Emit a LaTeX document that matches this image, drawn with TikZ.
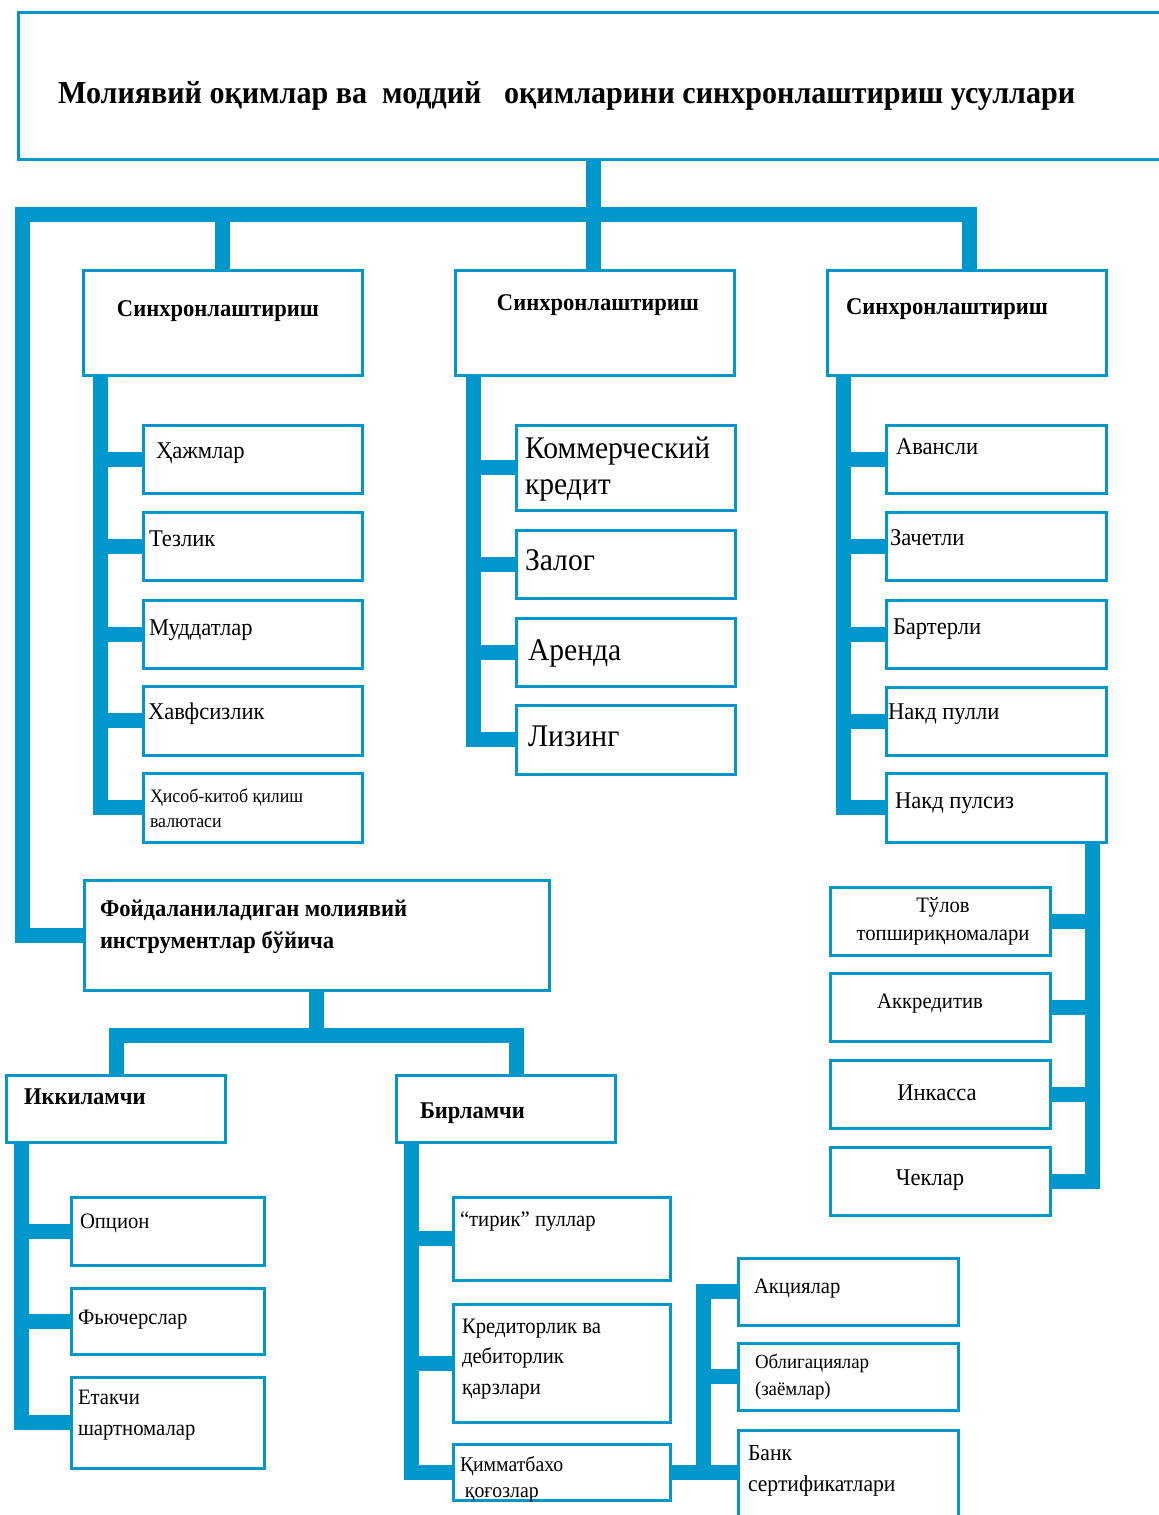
\documentclass[tikz,border=0pt]{standalone}
\usepackage{fontspec}
\setmainfont{Liberation Serif}[FakeStretch=0.94]
\usetikzlibrary{calc}
\definecolor{cb}{RGB}{0,152,204}
\newcommand\lft[1]{\vtop{\halign{##\hfil\cr#1\crcr}}}
\newcommand\ctr[1]{\vtop{\halign{\hfil##\hfil\cr#1\crcr}}}
\begin{document}
\begin{tikzpicture}[x=1pt,y=-1pt,
  box/.style={draw=cb, line width=3pt, rectangle, anchor=north west, inner sep=0pt, outer sep=0pt, fill=white},
  bar/.style={draw=cb, line width=15pt, line join=miter},
  txt/.style={anchor=base west, inner sep=0pt, outer sep=0pt},
  f24/.style={font=\fontsize{24}{30}\selectfont},
  f22/.style={font=\fontsize{22}{28}\selectfont},
  b24/.style={font=\bfseries\fontsize{24}{32}\selectfont},
  big/.style={font=\fontsize{31.5}{36}\selectfont},
]
\useasboundingbox[fill=white] (0,0) rectangle (1159,1515);

% coordinates for connector lines
\coordinate (hub) at (593,214);
\coordinate (lc) at (22,214);
\coordinate (v1) at (100,0);
\coordinate (v2) at (473,0);
\coordinate (v3) at (843,0);
\coordinate (vp) at (1092,0);
\coordinate (fh) at (316,1035);
\coordinate (ib) at (116,1035);
\coordinate (bb) at (516,1035);
\coordinate (vi) at (21,0);
\coordinate (vb) at (411,0);
\coordinate (vs) at (703,0);
\coordinate (d3) at (969,0);

% boxes
\node[box, minimum width=1152pt, minimum height=147pt] (title) at (18,12) {};
\node[box, minimum width=279pt, minimum height=105pt] (s1) at (83,270) {};
\node[box, minimum width=279pt, minimum height=105pt] (s2) at (455,270) {};
\node[box, minimum width=279pt, minimum height=105pt] (s3) at (827,270) {};

\node[box, minimum width=219pt, minimum height=68pt] (c1) at (143,425) {};
\node[box, minimum width=219pt, minimum height=68pt] (c2) at (143,512) {};
\node[box, minimum width=219pt, minimum height=68pt] (c3) at (143,600) {};
\node[box, minimum width=219pt, minimum height=69pt] (c4) at (143,686) {};
\node[box, minimum width=219pt, minimum height=69pt] (c5) at (143,773) {};

\node[box, minimum width=219pt, minimum height=85pt] (m1) at (516,425) {};
\node[box, minimum width=219pt, minimum height=68pt] (m2) at (516,530) {};
\node[box, minimum width=219pt, minimum height=68pt] (m3) at (516,618) {};
\node[box, minimum width=219pt, minimum height=69pt] (m4) at (516,705) {};

\node[box, minimum width=220pt, minimum height=68pt] (r1) at (886,425) {};
\node[box, minimum width=220pt, minimum height=68pt] (r2) at (886,512) {};
\node[box, minimum width=220pt, minimum height=68pt] (r3) at (886,600) {};
\node[box, minimum width=220pt, minimum height=68pt] (r4) at (886,687) {};
\node[box, minimum width=220pt, minimum height=69pt] (r5) at (886,773) {};

\node[box, minimum width=220pt, minimum height=68pt] (p1) at (830,887) {};
\node[box, minimum width=220pt, minimum height=68pt] (p2) at (830,973) {};
\node[box, minimum width=220pt, minimum height=68pt] (p3) at (830,1060) {};
\node[box, minimum width=220pt, minimum height=68pt] (p4) at (830,1147) {};

\node[box, minimum width=465pt, minimum height=110pt] (F) at (84,880) {};
\node[box, minimum width=219pt, minimum height=67pt] (I) at (6,1075) {};
\node[box, minimum width=219pt, minimum height=67pt] (B) at (396,1075) {};

\node[box, minimum width=193pt, minimum height=68pt] (o1) at (71,1197) {};
\node[box, minimum width=193pt, minimum height=66pt] (o2) at (71,1288) {};
\node[box, minimum width=193pt, minimum height=91pt] (o3) at (71,1377) {};

\node[box, minimum width=217pt, minimum height=83pt] (b1) at (453,1197) {};
\node[box, minimum width=217pt, minimum height=118pt] (b2) at (453,1304) {};
\node[box, minimum width=217pt, minimum height=56pt] (b3) at (453,1444) {};

\node[box, minimum width=220pt, minimum height=67pt] (a1) at (738,1258) {};
\node[box, minimum width=220pt, minimum height=67pt] (a2) at (738,1343) {};
\node[box, minimum width=220pt, minimum height=100pt] (a3) at (738,1430) {};

% connectors
\draw[bar] (title.south -| hub) -- (hub);
\draw[bar] (s3.north -| d3) |- (lc) |- (F.west);
\draw[bar] (hub) -- (s2.north -| hub);
\draw[bar] (s1.north) -- (s1.north |- hub);

\draw[bar] (s1.south -| v1) |- (c5.west);
\foreach \n in {c1,c2,c3,c4} \draw[bar] (\n.west -| v1) -- (\n.west);
\draw[bar] (s2.south -| v2) |- (m4.west);
\foreach \n in {m1,m2,m3} \draw[bar] (\n.west -| v2) -- (\n.west);
\draw[bar] (s3.south -| v3) |- (r5.west);
\foreach \n in {r1,r2,r3,r4} \draw[bar] (\n.west -| v3) -- (\n.west);

\draw[bar] (r5.south -| vp) |- (p4.east);
\foreach \n in {p1,p2,p3} \draw[bar] (\n.east) -- (\n.east -| vp);

\draw[bar] (F.south) -- (F.south |- fh);
\draw[bar] (I.north -| ib) -- (ib) -- (bb) -- (B.north -| bb);

\draw[bar] (I.south -| vi) |- (o3.west);
\foreach \n in {o1,o2} \draw[bar] (\n.west -| vi) -- (\n.west);
\draw[bar] (B.south -| vb) |- (b3.west);
\foreach \n in {b1,b2} \draw[bar] (\n.west -| vb) -- (\n.west);

\draw[bar] (b3.east) -- (b3.east -| a3.west);
\draw[bar] (b3.east -| vs) |- (a1.west);
\draw[bar] (a2.west -| vs) -- (a2.west);

% texts
\node[txt, font=\bfseries\fontsize{32}{36}\selectfont] (tt) at (58,103) {Молиявий оқимлар ва\ \ моддий\ \ \ оқимларини синхронлаштириш усуллари};

\node[txt, b24, anchor=base] (ts1) at (218,316) {Синхронлаштириш};
\node[txt, b24, anchor=base] (ts2) at (598,310) {Синхронлаштириш};
\node[txt, b24] (ts3) at (846,314) {Синхронлаштириш};

\node[txt, f24] (tc1) at (156,458) {Ҳажмлар};
\node[txt, f24] (tc2) at (149,546) {Тезлик};
\node[txt, f24] (tc3) at (149,635) {Муддатлар};
\node[txt, f24] (tc4) at (148,719) {Хавфсизлик};
\node[txt, font=\fontsize{19}{25}\selectfont] (tc5) at (150,802) {\lft{Ҳисоб-китоб қилиш\cr валютаси}};

\node[txt, big] (tm1) at (525,458) {\lft{Коммерческий\cr кредит}};
\node[txt, big] (tm2) at (525,570) {Залог};
\node[txt, big] (tm3) at (528,660) {Аренда};
\node[txt, big] (tm4) at (528,746) {Лизинг};

\node[txt, f24] (tr1) at (896,454) {Авансли};
\node[txt, f24] (tr2) at (890,545) {Зачетли};
\node[txt, f24] (tr3) at (893,634) {Бартерли};
\node[txt, f24] (tr4) at (888,719) {Накд пулли};
\node[txt, f24] (tr5) at (895,808) {Накд пулсиз};

\node[txt, f22, anchor=base] (tp1) at (943,912) {\ctr{Тўлов\cr топшириқномалари}};
\node[txt, f22, anchor=base] (tp2) at (930,1008) {Аккредитив};
\node[txt, f24, anchor=base] (tp3) at (937,1100) {Инкасса};
\node[txt, f24, anchor=base] (tp4) at (930,1185) {Чеклар};

\node[txt, b24] (tF) at (100,916) {\lft{Фойдаланиладиган молиявий\cr инструментлар бўйича}};
\node[txt, b24] (tI) at (24,1104) {Иккиламчи};
\node[txt, b24] (tB) at (420,1118) {Бирламчи};

\node[txt, f22] (to1) at (80,1228) {Опцион};
\node[txt, f22] (to2) at (78,1324) {Фьючерслар};
\node[txt, font=\fontsize{22}{31}\selectfont] (to3) at (78,1404) {\lft{Етакчи\cr шартномалар}};

\node[txt, f22] (tb1) at (460,1226) {“тирик” пуллар};
\node[txt, font=\fontsize{22}{30.5}\selectfont] (tb2) at (462,1333) {\lft{Кредиторлик ва\cr дебиторлик\cr қарзлари}};
\node[txt, font=\fontsize{21}{26}\selectfont] (tb3) at (460,1471) {\lft{Қимматбахо\cr \ қоғозлар}};

\node[txt, f22] (ta1) at (754,1293) {Акциялар};
\node[txt, font=\fontsize{20}{27}\selectfont] (ta2) at (755,1368) {\lft{Облигациялар\cr (заёмлар)}};
\node[txt, font=\fontsize{23}{31}\selectfont] (ta3) at (748,1460) {\lft{Банк\cr сертификатлари}};
\end{tikzpicture}
\end{document}
